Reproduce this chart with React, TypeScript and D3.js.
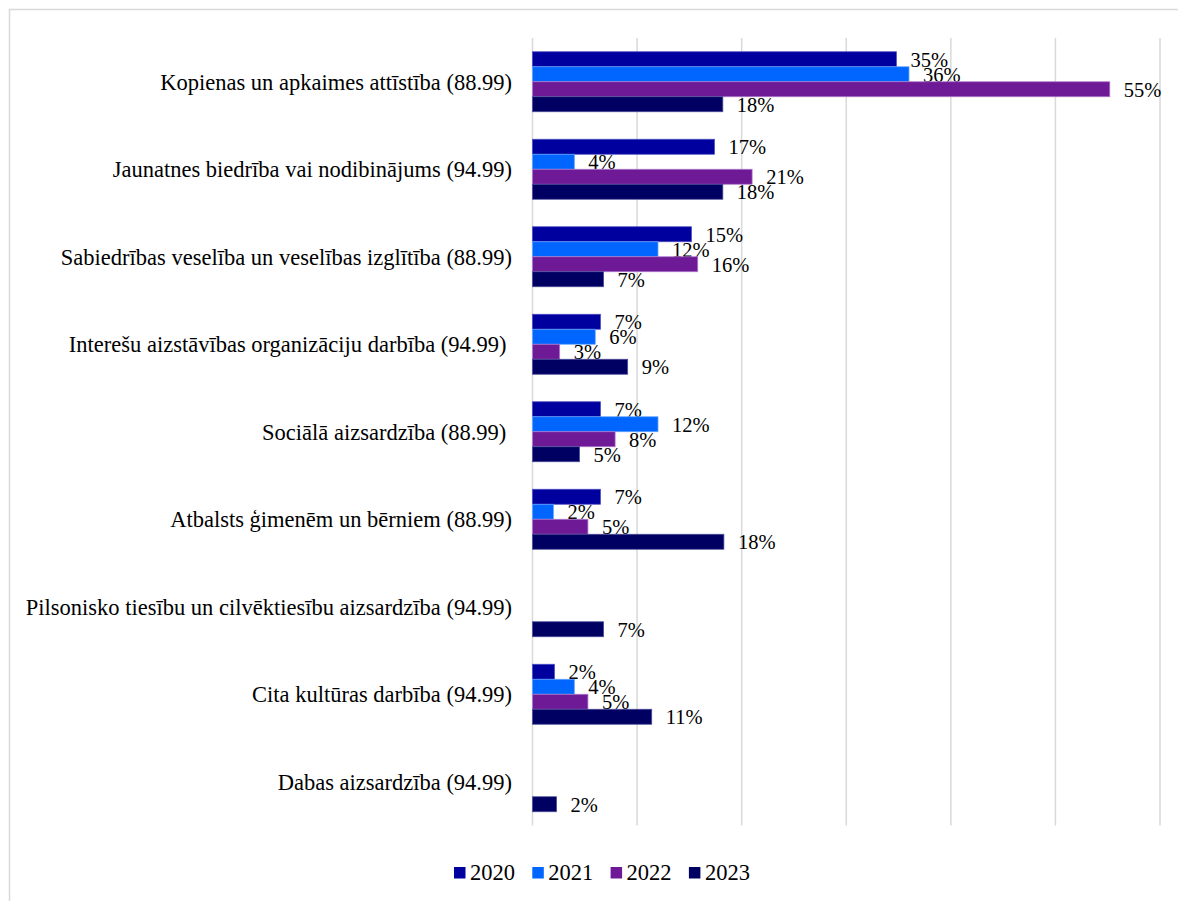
import React, { useEffect, useRef } from 'react';
import * as d3 from 'd3';

const categories = [
  'Kopienas un apkaimes attīstība (88.99)',
  'Jaunatnes biedrība vai nodibinājums (94.99)',
  'Sabiedrības veselība un veselības izglītība (88.99)',
  'Interešu aizstāvības organizāciju darbība (94.99) ',
  'Sociālā aizsardzība (88.99) ',
  'Atbalsts ģimenēm un bērniem (88.99)',
  'Pilsonisko tiesību un cilvēktiesību aizsardzība (94.99)',
  'Cita kultūras darbība (94.99)',
  'Dabas aizsardzība (94.99)',
];

const years = ['2020', '2021', '2022', '2023'];

// percentages, null = no label / no bar
const values2020 = [34.8, 17.4, 15.2, 6.5, 6.5, 6.5, null, 2.1, null];
const values2021 = [36.0, 4.0, 12.0, 6.0, 12.0, 2.0, null, 4.0, null];
const values2022 = [55.2, 21.0, 15.8, 2.6, 7.9, 5.3, null, 5.3, null];
const values2023 = [18.2, 18.2, 6.8, 9.1, 4.5, 18.3, 6.8, 11.4, 2.3];

const xTicks = [0, 10, 20, 30, 40, 50, 60];

const colors = ['#00009f', '#0066ff', '#6e1a96', '#000062'];
const strokes = ['#4d4dc4', '#66a3ff', '#b07ccc', '#4d4d9a'];

const FONT = "'Liberation Serif', 'Times New Roman', serif";

const App = () => {
  const ref = useRef(null);

  useEffect(() => {
    const W = 1178;
    const H = 901;
    const left = 532.5;
    const right = 1160;
    const top = 38;
    const bottom = 825.5;

    d3.select(ref.current).selectAll('*').remove();

    const svg = d3
      .select(ref.current)
      .append('svg')
      .attr('width', W)
      .attr('height', H)
      .style('position', 'absolute')
      .style('left', '0px')
      .style('top', '0px')
      .style('background', '#fff')
      .style('font-family', FONT);

    // chart border
    svg
      .append('rect')
      .attr('x', 9.5)
      .attr('y', 9.5)
      .attr('width', W + 10)
      .attr('height', H + 10)
      .attr('fill', '#fff')
      .attr('stroke', '#d9d9d9')
      .attr('stroke-width', 1.5);

    const x = d3.scaleLinear().domain([0, 60]).range([left, right]);

    const y = d3
      .scaleBand()
      .domain(categories)
      .range([top, bottom])
      .paddingInner(27.5 / 87.5)
      .paddingOuter(13.75 / 87.5);

    const y1 = d3.scaleBand().domain(years).range([0, y.bandwidth()]);

    // gridlines
    svg
      .append('g')
      .selectAll('line')
      .data(xTicks)
      .enter()
      .append('line')
      .attr('x1', d => x(d))
      .attr('x2', d => x(d))
      .attr('y1', top)
      .attr('y2', bottom)
      .attr('stroke', '#d9d9d9')
      .attr('stroke-width', 1.5);

    // category labels
    svg
      .append('g')
      .selectAll('text')
      .data(categories)
      .enter()
      .append('text')
      .attr('x', 512)
      .attr('y', d => y(d) + y.bandwidth() / 2 + 8)
      .attr('text-anchor', 'end')
      .attr('xml:space', 'preserve')
      .style('white-space', 'pre')
      .attr('font-size', 22.5)
      .attr('fill', '#000')
      .text(d => d);

    const series = [values2020, values2021, values2022, values2023];

    series.forEach((vals, si) => {
      const rows = categories
        .map((c, i) => ({ cat: c, v: vals[i] }))
        .filter(d => d.v !== null);

      const g = svg.append('g');

      g.selectAll('rect')
        .data(rows)
        .enter()
        .append('rect')
        .attr('x', x(0))
        .attr('y', d => y(d.cat) + y1(years[si]))
        .attr('width', d => x(d.v) - x(0))
        .attr('height', y1.bandwidth())
        .attr('fill', colors[si])
        .attr('stroke', strokes[si])
        .attr('stroke-width', 0.75);

      g.selectAll('text')
        .data(rows)
        .enter()
        .append('text')
        .attr('x', d => x(d.v) + 14)
        .attr('y', d => y(d.cat) + y1(years[si]) + y1.bandwidth() / 2 + 7.5)
        .attr('font-size', 20.5)
        .attr('fill', '#000')
        .text(d => `${Math.round(d.v)}%`);
    });

    // legend
    const legend = svg.append('g').attr('transform', 'translate(454, 867)');
    years.forEach((yr, i) => {
      const lg = legend.append('g').attr('transform', `translate(${i * 78.3}, 0)`);
      lg.append('rect')
        .attr('width', 11.5)
        .attr('height', 11.5)
        .attr('fill', colors[i]);
      lg.append('text')
        .attr('x', 16)
        .attr('y', 13)
        .attr('font-size', 22.5)
        .attr('fill', '#000')
        .text(yr);
    });
  }, []);

  return <div ref={ref}></div>;
};

export default App;
